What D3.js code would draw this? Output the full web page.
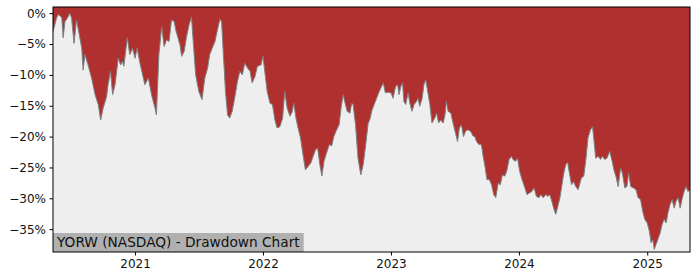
<!DOCTYPE html>
<html>
<head>
<meta charset="utf-8">
<script src="https://cdn.jsdelivr.net/npm/d3@7"></script>
<style>
body { margin: 0; background: #fff; }
text { font-family: "DejaVu Sans", sans-serif; }
</style>
</head>
<body>
<svg width="700" height="280"></svg>
<script>
// drawdown values (%)
var dates = [
 "2020-05-12","2020-05-22","2020-05-27","2020-06-06","2020-06-10","2020-06-15","2020-06-25","2020-06-29","2020-07-04","2020-07-11",
 "2020-07-18","2020-07-26","2020-08-02","2020-08-06","2020-08-11","2020-08-20","2020-08-30","2020-09-09","2020-09-18","2020-09-25",
 "2020-10-02","2020-10-12","2020-10-16","2020-10-23","2020-10-29","2020-11-05","2020-11-14","2020-11-21","2020-11-26","2020-11-30",
 "2020-12-10","2020-12-17","2020-12-25","2021-01-01","2021-01-07","2021-01-15","2021-01-29","2021-02-08","2021-02-17","2021-02-27",
 "2021-03-03","2021-03-10","2021-03-18","2021-03-25","2021-04-01","2021-04-08","2021-04-15","2021-04-23","2021-04-27","2021-05-09",
 "2021-05-14","2021-05-21","2021-05-28","2021-06-04","2021-06-11","2021-06-16","2021-06-23","2021-07-02","2021-07-11","2021-07-19",
 "2021-07-27","2021-08-02","2021-08-09","2021-08-17","2021-08-24","2021-08-31","2021-09-05","2021-09-09","2021-09-16","2021-09-22",
 "2021-09-28","2021-10-05","2021-10-13","2021-10-20","2021-10-27","2021-11-03","2021-11-10","2021-11-18","2021-11-25","2021-12-01",
 "2021-12-09","2021-12-16","2021-12-26","2022-01-01","2022-01-06","2022-01-13","2022-01-21","2022-01-28","2022-02-04","2022-02-10",
 "2022-02-18","2022-02-26","2022-03-04","2022-03-11","2022-03-19","2022-03-25","2022-03-30","2022-04-05","2022-04-11","2022-04-18",
 "2022-04-25","2022-05-02","2022-05-10","2022-05-17","2022-05-24","2022-05-31","2022-06-06","2022-06-12","2022-06-18","2022-06-24",
 "2022-07-01","2022-07-09","2022-07-16","2022-07-22","2022-07-30","2022-08-06","2022-08-13","2022-08-18","2022-08-22","2022-08-29",
 "2022-09-06","2022-09-11","2022-09-15","2022-09-22","2022-09-29","2022-10-07","2022-10-14","2022-10-21","2022-10-28","2022-11-02",
 "2022-11-07","2022-11-14","2022-11-21","2022-11-27","2022-12-05","2022-12-10","2022-12-16","2022-12-24","2023-01-01","2023-01-07",
 "2023-01-14","2023-01-20","2023-01-24","2023-01-29","2023-02-03","2023-02-07","2023-02-12","2023-02-19","2023-02-24","2023-03-02",
 "2023-03-08","2023-03-15","2023-03-19","2023-03-24","2023-03-31","2023-04-05","2023-04-10","2023-04-15","2023-04-22","2023-04-28",
 "2023-05-06","2023-05-11","2023-05-17","2023-05-23","2023-05-30","2023-06-04","2023-06-08","2023-06-13","2023-06-21","2023-06-27",
 "2023-07-04","2023-07-10","2023-07-15","2023-07-21","2023-07-27","2023-08-02","2023-08-09","2023-08-17","2023-08-23","2023-08-28",
 "2023-09-02","2023-09-09","2023-09-16","2023-09-21","2023-09-26","2023-10-02","2023-10-08","2023-10-15","2023-10-21","2023-10-27",
 "2023-11-03","2023-11-09","2023-11-15","2023-11-22","2023-11-28","2023-12-04","2023-12-11","2023-12-15","2023-12-22","2023-12-28",
 "2024-01-03","2024-01-10","2024-01-18","2024-01-24","2024-02-01","2024-02-07","2024-02-13","2024-02-20","2024-02-27","2024-03-04",
 "2024-03-10","2024-03-18","2024-03-24","2024-03-29","2024-04-05","2024-04-09","2024-04-15","2024-04-21","2024-04-27","2024-05-02",
 "2024-05-08","2024-05-14","2024-05-19","2024-05-24","2024-05-30","2024-06-05","2024-06-11","2024-06-18","2024-06-27","2024-07-04",
 "2024-07-10","2024-07-16","2024-07-23","2024-07-29","2024-08-01","2024-08-07","2024-08-14","2024-08-21","2024-08-26","2024-09-02",
 "2024-09-08","2024-09-16","2024-09-23","2024-09-28","2024-10-05","2024-10-10","2024-10-17","2024-10-22","2024-10-29","2024-11-04",
 "2024-11-09","2024-11-15","2024-11-22","2024-11-30","2024-12-06","2024-12-13","2024-12-19","2024-12-25","2025-01-01","2025-01-07",
 "2025-01-12","2025-01-17","2025-01-21","2025-01-26","2025-01-31","2025-02-07","2025-02-12","2025-02-18","2025-02-24","2025-03-01",
 "2025-03-07","2025-03-13","2025-03-19","2025-03-24","2025-03-30","2025-04-05","2025-04-10","2025-04-16","2025-04-22","2025-04-27",
 "2025-05-03"
];
var drawdown = [
 -3.0,-0.8,-0.2,-0.7,-4.0,-1.4,-0.5,0,-0.8,-4.9,
 -1.1,-3.5,-5.7,-9.2,-6.7,-8.4,-10.5,-13.2,-14.8,-17.3,
 -15.4,-13.5,-11.6,-9.4,-13.2,-11.6,-7.3,-8.4,-7.8,-8.6,
 -4.0,-6.7,-5.7,-7.3,-5.7,-8.1,-11.6,-10.5,-13.2,-15.4,
 -16.5,-6.7,-2.2,-5.4,-4.3,-4.6,-1.1,-1.4,-2.7,-5.1,
 -7.0,-6.2,-3.8,-1.9,-0.6,-4.6,-10.0,-12.7,-14.0,-10.5,
 -8.9,-6.7,-5.7,-4.6,-2.7,-1.0,-1.4,-5.7,-12.7,-16.5,
 -17.0,-15.9,-13.5,-11.1,-9.4,-10.0,-8.1,-8.9,-9.4,-11.3,
 -10.3,-8.6,-8.4,-7.0,-9.4,-12.7,-14.6,-14.8,-17.3,-18.6,
 -18.4,-17.0,-12.7,-15.4,-16.7,-16.0,-14.6,-17.0,-18.6,-20.2,
 -22.9,-25.4,-24.8,-24.3,-23.2,-22.1,-21.9,-24.5,-26.4,-24.0,
 -22.7,-21.3,-21.5,-20.0,-18.9,-18.1,-14.8,-13.2,-14.3,-15.9,
 -16.2,-14.6,-14.8,-18.1,-23.5,-26.2,-24.5,-21.3,-17.8,-17.2,
 -15.9,-14.8,-13.8,-12.9,-11.9,-11.3,-12.9,-12.8,-12.9,-13.8,
 -11.9,-11.6,-13.2,-11.9,-11.3,-14.3,-14.8,-12.9,-14.6,-15.9,
 -14.8,-14.3,-13.8,-15.1,-13.8,-11.6,-10.8,-12.4,-14.8,-17.8,
 -17.0,-16.2,-17.8,-17.3,-17.8,-16.5,-14.3,-15.9,-16.2,-17.8,
 -19.4,-20.8,-18.6,-18.1,-20.0,-19.1,-18.9,-19.2,-19.9,-20.0,
 -20.8,-21.3,-21.3,-23.2,-24.8,-27.0,-26.9,-27.8,-29.4,-29.9,
 -27.5,-27.8,-26.2,-26.4,-25.4,-23.7,-23.2,-23.7,-24.0,-23.5,
 -25.6,-27.0,-28.3,-29.4,-29.1,-28.9,-28.3,-29.7,-29.9,-29.4,
 -29.9,-29.4,-29.7,-29.4,-30.7,-31.6,-32.6,-31.3,-29.9,-28.1,
 -25.9,-24.5,-24.2,-25.9,-27.8,-27.3,-28.1,-28.6,-26.7,-26.4,
 -23.7,-20.2,-18.9,-18.4,-20.0,-23.5,-23.2,-23.7,-23.2,-23.7,
 -23.5,-22.4,-24.0,-25.4,-26.7,-28.1,-25.1,-25.9,-28.3,-28.1,
 -25.9,-28.1,-28.3,-28.6,-29.9,-30.2,-32.1,-33.4,-34.0,-35.3,
 -37.2,-36.7,-38.3,-37.5,-36.7,-35.6,-34.3,-33.4,-34.0,-32.4,
 -31.0,-30.2,-31.6,-30.5,-29.9,-31.6,-30.2,-28.9,-28.1,-28.9,
 -28.6
];
var yTicks = [0, -5, -10, -15, -20, -25, -30, -35];
var xTicks = ["2021-01-01", "2022-01-01", "2023-01-01", "2024-01-01", "2025-01-01"];
var title = "YORW (NASDAQ) - Drawdown Chart";

var svg = d3.select('svg');
var pl = 53, pr = 690, pt = 7, pb = 252;
var parse = d3.timeParse('%Y-%m-%d');
var data = dates.map(function(d, i) { return { date: parse(d), v: drawdown[i] }; });

var x = d3.scaleTime().domain(d3.extent(data, function(d) { return d.date; })).range([pl, pr]);
var y = d3.scaleLinear().domain([-38.7, 1]).range([pb, pt]);

svg.append('rect').attr('x', pl).attr('y', pt).attr('width', pr - pl).attr('height', pb - pt).attr('fill', '#eeeeee');

var area = d3.area().x(function(d) { return x(d.date); }).y0(pt).y1(function(d) { return y(d.v); });
svg.append('path').datum(data).attr('d', area).attr('fill', '#b03030');

var line = d3.line().x(function(d) { return x(d.date); }).y(function(d) { return y(d.v); });
svg.append('path').datum(data).attr('d', line).attr('fill', 'none').attr('stroke', '#808080').attr('stroke-width', 1);

// label box
var lbl = svg.append('g');
var lblText = lbl.append('text').attr('x', pl + 4).attr('y', 247).attr('font-size', 13.7).attr('fill', '#111').text(title);
var bw = lblText.node().getComputedTextLength();
lbl.insert('rect', 'text').attr('x', pl).attr('y', 233).attr('width', bw + 8).attr('height', pb - 233).attr('fill', '#b0b0b0');

// axes
var yAxis = d3.axisLeft(y).tickValues(yTicks).tickSize(3.5).tickPadding(3.5)
  .tickFormat(function(d) { return (d < 0 ? '\u2212' : '') + Math.abs(d) + '%'; });
var gy = svg.append('g').attr('transform', 'translate(' + pl + ',0)').call(yAxis);

var xAxis = d3.axisBottom(x).tickValues(xTicks.map(parse)).tickSize(3.5).tickPadding(3.5)
  .tickFormat(d3.timeFormat('%Y'));
var gx = svg.append('g').attr('transform', 'translate(0,' + pb + ')').call(xAxis);

[gx, gy].forEach(function(g) {
  g.select('.domain').remove();
  g.selectAll('text').attr('font-size', 12).attr('fill', '#111').attr('font-family', '"DejaVu Sans", sans-serif');
  g.selectAll('line').attr('stroke', '#000');
});

svg.append('rect').attr('x', pl).attr('y', pt).attr('width', pr - pl).attr('height', pb - pt)
  .attr('fill', 'none').attr('stroke', '#000').attr('stroke-width', 1);
</script>
</body>
</html>
